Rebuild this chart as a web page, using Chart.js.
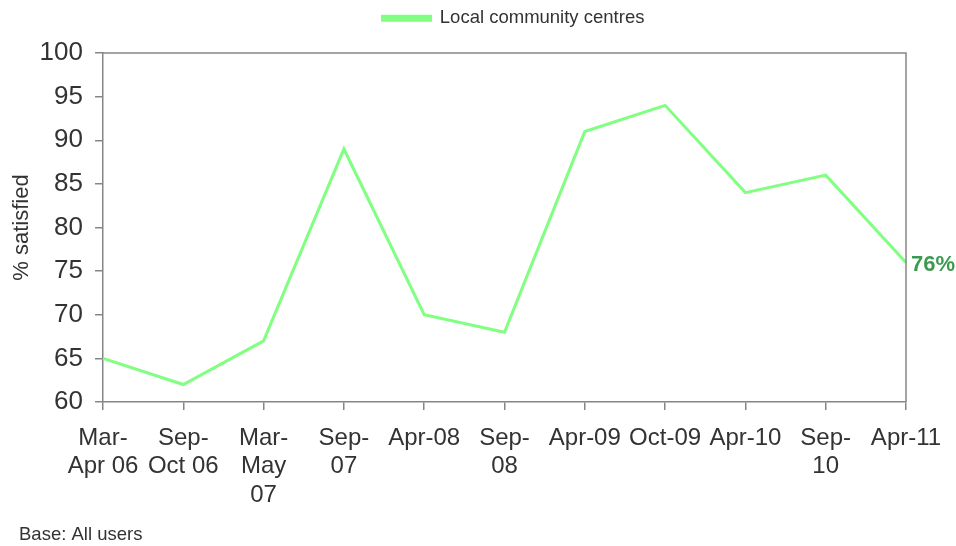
<!DOCTYPE html>
<html>
<head>
<meta charset="utf-8">
<script src="https://cdn.jsdelivr.net/npm/chart.js@4/dist/chart.umd.min.js"></script>
<style>
  html, body { margin: 0; padding: 0; background: #fff; }
  #wrap { position: relative; width: 956px; height: 546px; }
</style>
</head>
<body>
<div id="wrap"><canvas id="c" width="956" height="546"></canvas></div>
<script>
// Survey waves (multi-line labels under the x axis)
const waves = [
  ['Mar-', 'Apr 06'],
  ['Sep-', 'Oct 06'],
  ['Mar-', 'May', '07'],
  ['Sep-', '07'],
  'Apr-08',
  ['Sep-', '08'],
  'Apr-09',
  'Oct-09',
  'Apr-10',
  ['Sep-', '10'],
  'Apr-11'
];

// % of users satisfied with local community centres
const satisfied = [65, 62, 67, 89, 70, 68, 91, 94, 84, 86, 76];

const seriesName = 'Local community centres';
const yTicks = [60, 65, 70, 75, 80, 85, 90, 95, 100];
const footnote = 'Base: All users';

const FONT = "'Liberation Sans', Arial, sans-serif";
const AXIS_GREY = '#868686';
const TEXT = '#333333';
const LINE_GREEN = '#80ff80';
const LABEL_GREEN = '#3c9a50';

// Legend sits a little right of the plot centre, close to the top edge
const legendShift = {
  id: 'legendShift',
  afterLayout(chart) {
    const lg = chart.legend;
    if (!lg) return;
    const dx = (chart.chartArea.left + chart.chartArea.right) / 2 - (lg.left + lg.right) / 2 + 9;
    lg.left += dx;
    lg.right += dx;
    const dy = -lg.top;
    lg.top += dy;
    lg.bottom += dy;
  }
};

// Closes the plot box (top and right edges) and writes the footnote
const frame = {
  id: 'frame',
  afterDraw(chart) {
    const { ctx, chartArea: a } = chart;
    ctx.save();
    ctx.strokeStyle = AXIS_GREY;
    ctx.lineWidth = 1.5;
    ctx.beginPath();
    ctx.moveTo(a.left, a.top);
    ctx.lineTo(a.right, a.top);
    ctx.lineTo(a.right, a.bottom);
    ctx.stroke();
    ctx.fillStyle = TEXT;
    ctx.font = '18.5px ' + FONT;
    ctx.textBaseline = 'alphabetic';
    ctx.textAlign = 'left';
    ctx.fillText(footnote, 19, 540);
    ctx.restore();
  }
};

// Value label beside the latest wave
const lastValue = {
  id: 'lastValue',
  afterDatasetsDraw(chart) {
    const meta = chart.getDatasetMeta(0);
    const i = satisfied.length - 1;
    const pt = meta.data[i];
    const { ctx } = chart;
    ctx.save();
    ctx.fillStyle = LABEL_GREEN;
    ctx.font = 'bold 22px ' + FONT;
    ctx.textAlign = 'left';
    ctx.textBaseline = 'middle';
    ctx.fillText(satisfied[i] + '%', pt.x + 5, pt.y + 3);
    ctx.restore();
  }
};

new Chart(document.getElementById('c'), {
  type: 'line',
  data: {
    labels: waves,
    datasets: [{
      label: seriesName,
      data: satisfied,
      borderColor: LINE_GREEN,
      backgroundColor: LINE_GREEN,
      borderWidth: 3,
      pointRadius: 0,
      tension: 0,
      fill: false
    }]
  },
  options: {
    responsive: false,
    animation: false,
    layout: { padding: { left: 0, right: 50, top: 0, bottom: 0 } },
    plugins: {
      legend: {
        display: true,
        position: 'top',
        labels: {
          color: TEXT,
          font: { family: FONT, size: 18.5 },
          boxWidth: 48,
          boxHeight: 4,
          padding: 9
        }
      },
      tooltip: { enabled: false }
    },
    scales: {
      x: {
        type: 'category',
        offset: false,
        afterFit(scale) { scale.height = 144; },
        grid: {
          display: true,
          drawOnChartArea: false,
          drawTicks: true,
          tickLength: 8,
          color: AXIS_GREY,
          lineWidth: 1.5
        },
        border: { display: true, color: AXIS_GREY, width: 1.5 },
        ticks: {
          color: TEXT,
          font: { family: FONT, size: 24, lineHeight: 1.19 },
          maxRotation: 0,
          minRotation: 0,
          autoSkip: false,
          padding: 14
        }
      },
      y: {
        min: 60,
        max: 100,
        afterFit(scale) { scale.width = 103; scale.paddingTop = 53; },
        afterBuildTicks(scale) { scale.ticks = yTicks.map(v => ({ value: v })); },
        grid: {
          display: true,
          drawOnChartArea: false,
          drawTicks: true,
          tickLength: 8,
          color: AXIS_GREY,
          lineWidth: 1.5
        },
        border: { display: true, color: AXIS_GREY, width: 1.5 },
        ticks: {
          color: TEXT,
          font: { family: FONT, size: 26 },
          padding: 12
        },
        title: {
          display: true,
          text: '% satisfied',
          color: TEXT,
          font: { family: FONT, size: 22 },
          padding: { top: 9, bottom: 0 }
        }
      }
    }
  },
  plugins: [legendShift, frame, lastValue]
});
</script>
</body>
</html>
